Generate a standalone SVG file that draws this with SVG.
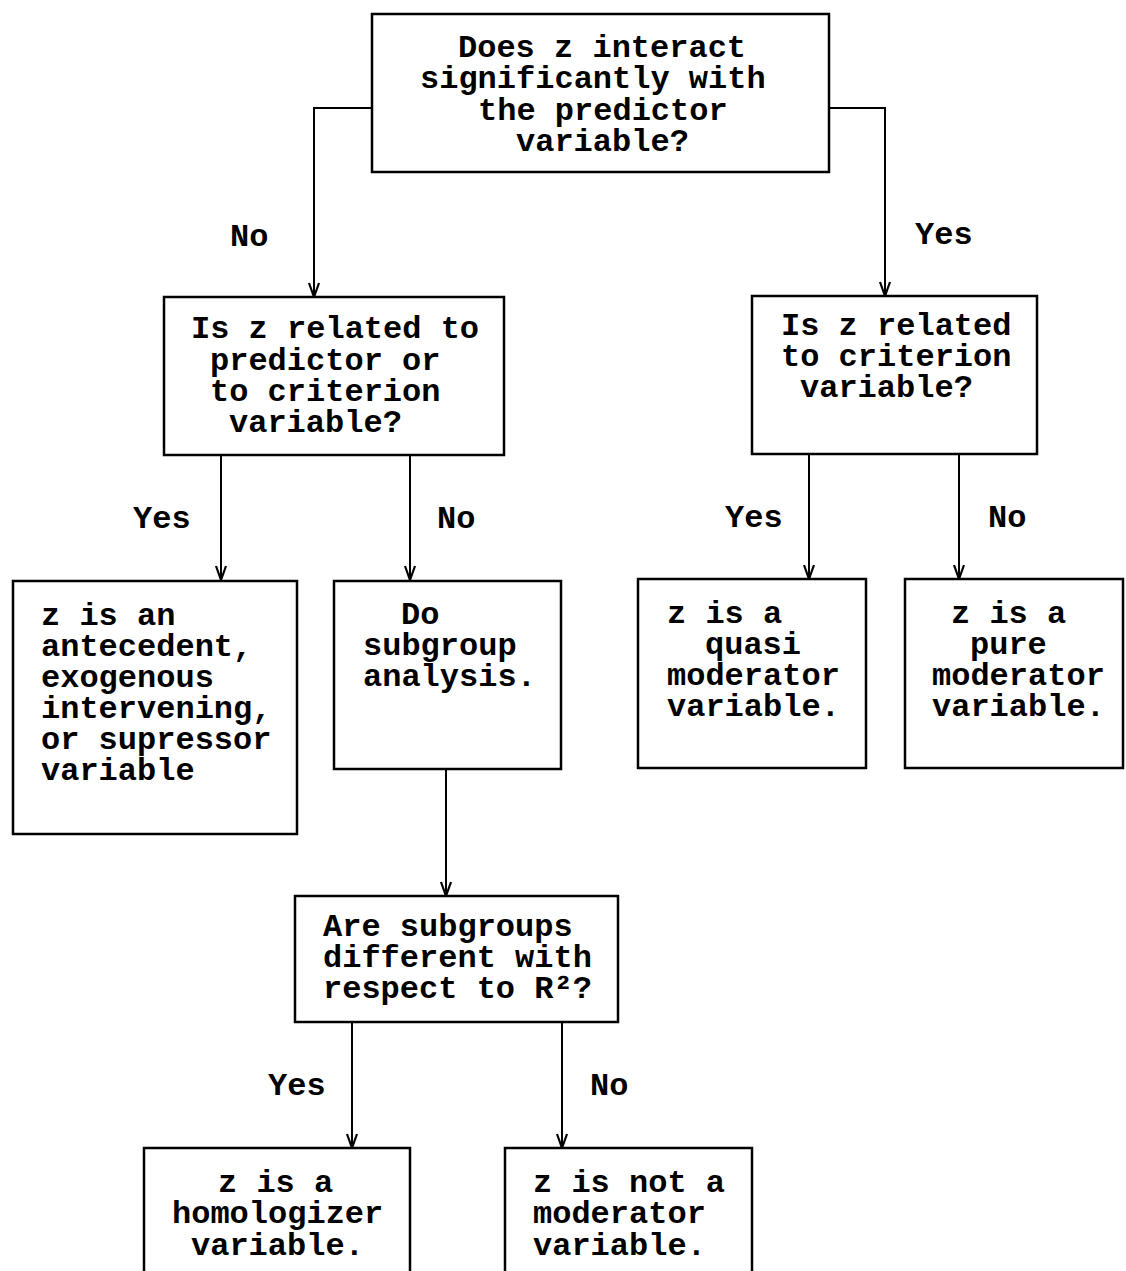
<svg xmlns="http://www.w3.org/2000/svg" width="1126" height="1271" viewBox="0 0 1126 1271">
<style>
.box{fill:#fff;stroke:#000;stroke-width:2.5}
.t{font-family:"Liberation Mono","Courier New",monospace;font-weight:bold;font-size:32px;fill:#000}
.c{fill:none;stroke:#000;stroke-width:2}
.ah{fill:none;stroke:#000;stroke-width:2.2;stroke-linejoin:miter}
</style>
<defs>
<marker id="arr" markerUnits="userSpaceOnUse" markerWidth="20" markerHeight="16" viewBox="-17 -8 20 16" refX="0" refY="0" orient="auto" overflow="visible">
<path d="M-14,-5 L0,0 L-14,5" class="ah"/>
</marker>
</defs>
<rect width="1126" height="1271" fill="#fff"/>
<g id="connectors">
<path class="c" d="M372,108 H314 V297" marker-end="url(#arr)"/>
<path class="c" d="M829,108 H885 V296" marker-end="url(#arr)"/>
<path class="c" d="M221,455 V580" marker-end="url(#arr)"/>
<path class="c" d="M410,455 V580" marker-end="url(#arr)"/>
<path class="c" d="M809,454 V579" marker-end="url(#arr)"/>
<path class="c" d="M959,454 V579" marker-end="url(#arr)"/>
<path class="c" d="M446,768 V896" marker-end="url(#arr)"/>
<path class="c" d="M352,1022 V1148" marker-end="url(#arr)"/>
<path class="c" d="M562,1022 V1148" marker-end="url(#arr)"/>
<text class="t" x="230" y="246">No</text>
<text class="t" x="915" y="244">Yes</text>
<text class="t" x="133" y="528">Yes</text>
<text class="t" x="437" y="528">No</text>
<text class="t" x="725" y="527">Yes</text>
<text class="t" x="988" y="527">No</text>
<text class="t" x="268" y="1095">Yes</text>
<text class="t" x="590" y="1095">No</text>
</g>
<g id="n1">
<rect class="box" x="372" y="14" width="457" height="158"/>
<text class="t" x="458" y="57">Does z interact</text>
<text class="t" x="420" y="88">significantly with</text>
<text class="t" x="478" y="120">the predictor</text>
<text class="t" x="516" y="151">variable?</text>
</g>
<g id="n2">
<rect class="box" x="164" y="297" width="340" height="158"/>
<text class="t" x="191" y="338">Is z related to</text>
<text class="t" x="210" y="370">predictor or</text>
<text class="t" x="210" y="401">to criterion</text>
<text class="t" x="229" y="432">variable?</text>
</g>
<g id="n3">
<rect class="box" x="752" y="296" width="285" height="158"/>
<text class="t" x="781" y="335">Is z related</text>
<text class="t" x="781" y="366">to criterion</text>
<text class="t" x="800" y="397">variable?</text>
</g>
<g id="n4">
<rect class="box" x="13" y="581" width="284" height="253"/>
<text class="t" x="41" y="625">z is an</text>
<text class="t" x="41" y="656">antecedent,</text>
<text class="t" x="41" y="687">exogenous</text>
<text class="t" x="41" y="718">intervening,</text>
<text class="t" x="41" y="749">or supressor</text>
<text class="t" x="41" y="780">variable</text>
</g>
<g id="n5">
<rect class="box" x="334" y="581" width="227" height="188"/>
<text class="t" x="401" y="624">Do</text>
<text class="t" x="363" y="655">subgroup</text>
<text class="t" x="363" y="686">analysis.</text>
</g>
<g id="n6">
<rect class="box" x="638" y="579" width="228" height="189"/>
<text class="t" x="667" y="623">z is a</text>
<text class="t" x="705" y="654">quasi</text>
<text class="t" x="667" y="685">moderator</text>
<text class="t" x="667" y="716">variable.</text>
</g>
<g id="n7">
<rect class="box" x="905" y="579" width="218" height="189"/>
<text class="t" x="951" y="623">z is a</text>
<text class="t" x="970" y="654">pure</text>
<text class="t" x="932" y="685">moderator</text>
<text class="t" x="932" y="716">variable.</text>
</g>
<g id="n8">
<rect class="box" x="295" y="896" width="323" height="126"/>
<text class="t" x="323" y="936">Are subgroups</text>
<text class="t" x="323" y="967">different with</text>
<text class="t" x="323" y="998">respect to R²?</text>
</g>
<g id="n9">
<rect class="box" x="144" y="1148" width="266" height="140"/>
<text class="t" x="218" y="1192">z is a</text>
<text class="t" x="172" y="1223">homologizer</text>
<text class="t" x="191" y="1255">variable.</text>
</g>
<g id="n10">
<rect class="box" x="505" y="1148" width="247" height="140"/>
<text class="t" x="533" y="1192">z is not a</text>
<text class="t" x="533" y="1223">moderator</text>
<text class="t" x="533" y="1255">variable.</text>
</g>
</svg>
